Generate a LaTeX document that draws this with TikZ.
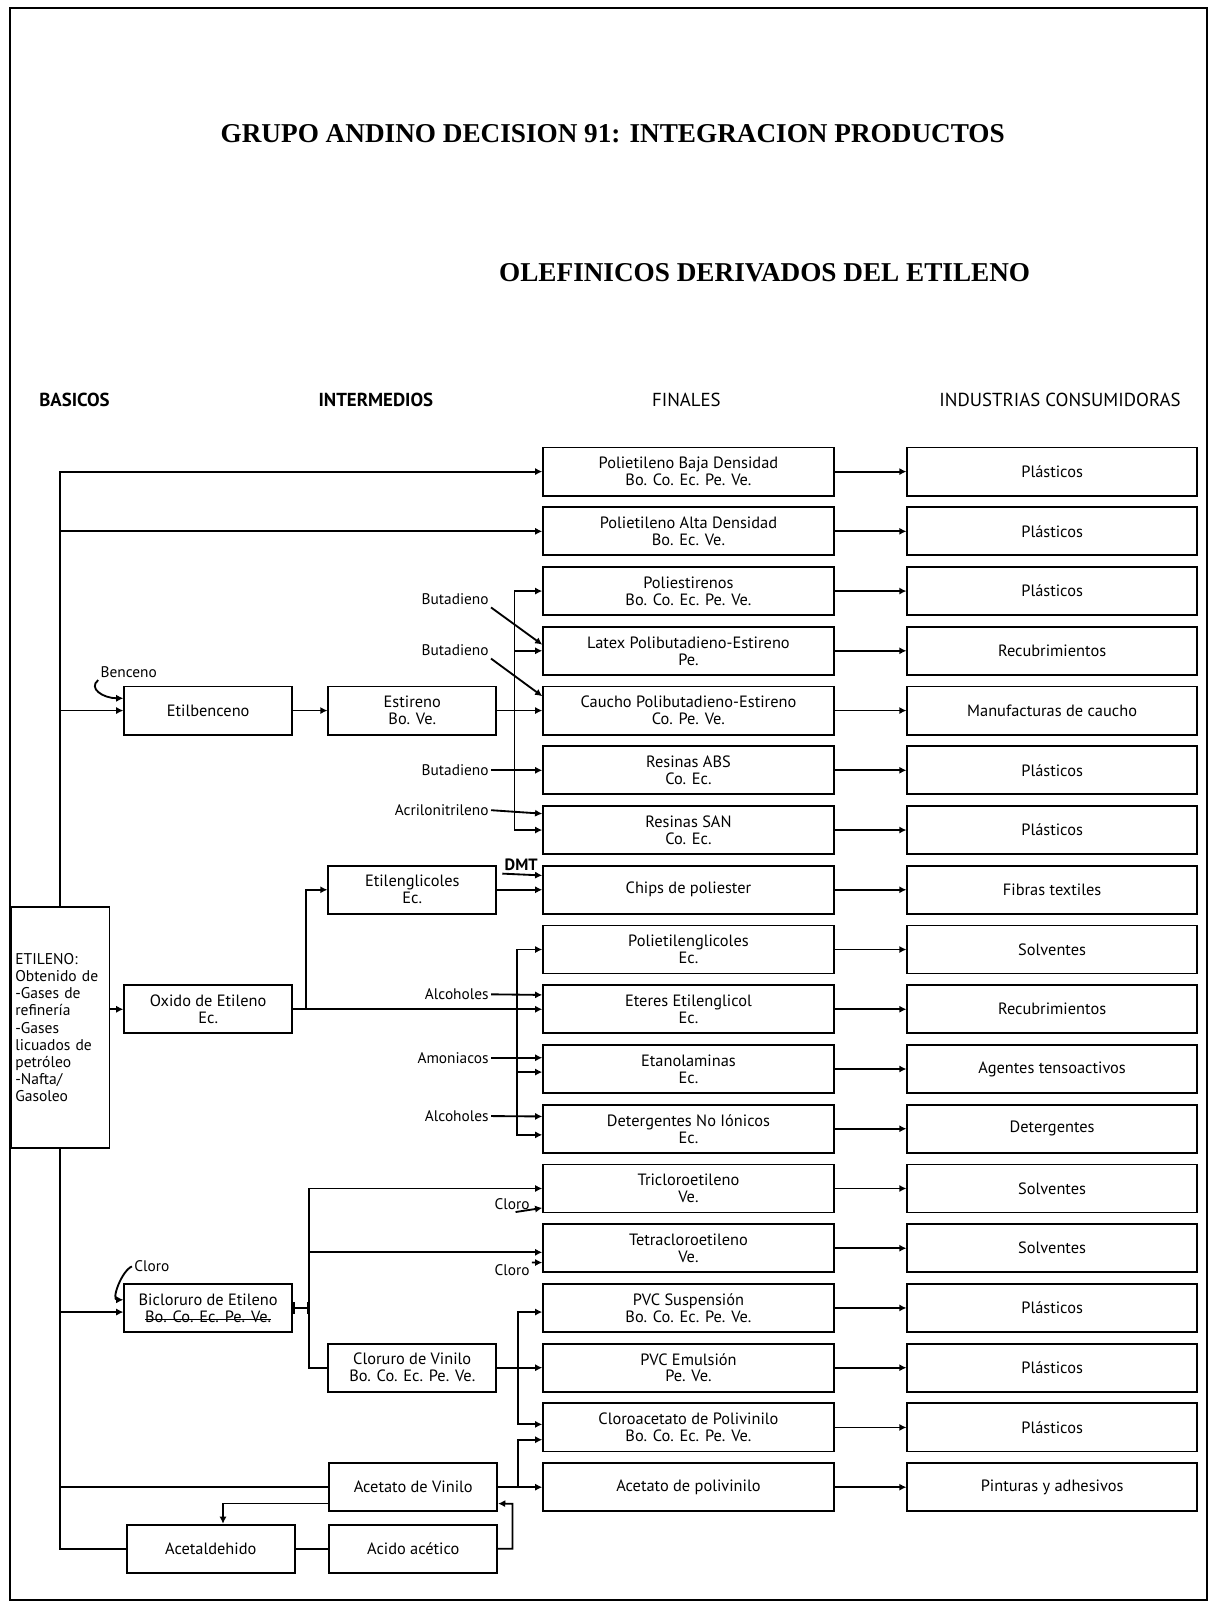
\documentclass[tikz,border=0pt]{standalone}
\usepackage{fontspec}
\setmainfont{Liberation Serif}
\newfontfamily\boxfont{PT Sans}
\usepackage{tikz}
\usetikzlibrary{arrows.meta}
\newsavebox{\tachbox}
\newcommand{\tachado}[1]{\sbox{\tachbox}{#1}\rlap{\rule[0.3ex]{\wd\tachbox}{0.5pt}}\usebox{\tachbox}}
\begin{document}
\begin{tikzpicture}[
  box/.style={draw, line width=0.9pt, minimum height=23.5pt, align=center, inner sep=1pt, font=\boxfont\fontsize{8}{8.3}\selectfont},
  fin/.style={box, minimum width=142pt},
  ind/.style={box, minimum width=141.5pt},
  mid/.style={box, minimum width=82pt},
  tag/.style={inner sep=1pt, font=\boxfont\fontsize{7.5}{8.3}\selectfont},
  head/.style={anchor=west, inner sep=0pt, font=\boxfont\fontsize{9.2}{10}\selectfont},
  link/.style={line width=0.9pt},
  feed/.style={link, -{Latex[length=3.5pt, width=3.5pt]}}]
\useasboundingbox (0pt, 0pt) rectangle (593pt, -784pt);
\draw [line width=1.2pt] (5pt, -4pt) rectangle (590pt, -782pt);
% titles
\node (title) [font=\bfseries\fontsize{13.3}{16}\selectfont] at (299.5pt, -65.5pt) {GRUPO ANDINO DECISION 91: INTEGRACION PRODUCTOS};
\node (subtitle) [font=\bfseries\fontsize{13.3}{16}\selectfont] at (373.75pt, -133.5pt) {OLEFINICOS DERIVADOS DEL ETILENO};
\node (hbas) [head, font=\boxfont\bfseries\fontsize{9.2}{10}\selectfont] at (19pt, -195.5pt) {BASICOS};
\node (hint) [head, font=\boxfont\bfseries\fontsize{9.2}{10}\selectfont] at (155.5pt, -195.5pt) {INTERMEDIOS};
\node (hfin) [head] at (318.5pt, -195.5pt) {FINALES};
\node (hind) [head] at (459pt, -195.5pt) {INDUSTRIAS CONSUMIDORAS};
% finales
\node (f1) [fin] at (336.5pt, -230.5pt) {Polietileno Baja Densidad\\Bo. Co. Ec. Pe. Ve.};
\node (f2) [fin] at (336.5pt, -259.7pt) {Polietileno Alta Densidad\\Bo. Ec. Ve.};
\node (f3) [fin] at (336.5pt, -288.9pt) {Poliestirenos\\Bo. Co. Ec. Pe. Ve.};
\node (f4) [fin] at (336.5pt, -318.1pt) {Latex Polibutadieno-Estireno\\Pe.};
\node (f5) [fin] at (336.5pt, -347.3pt) {Caucho Polibutadieno-Estireno\\Co. Pe. Ve.};
\node (f6) [fin] at (336.5pt, -376.5pt) {Resinas ABS\\Co. Ec.};
\node (f7) [fin] at (336.5pt, -405.7pt) {Resinas SAN\\Co. Ec.};
\node (f8) [fin] at (336.5pt, -434.9pt) {Chips de poliester};
\node (f9) [fin] at (336.5pt, -464.1pt) {Polietilenglicoles\\Ec.};
\node (f10) [fin] at (336.5pt, -493.3pt) {Eteres Etilenglicol\\Ec.};
\node (f11) [fin] at (336.5pt, -522.5pt) {Etanolaminas\\Ec.};
\node (f12) [fin] at (336.5pt, -551.7pt) {Detergentes No Iónicos\\Ec.};
\node (f13) [fin] at (336.5pt, -580.9pt) {Tricloroetileno\\Ve.};
\node (f14) [fin] at (336.5pt, -610.1pt) {Tetracloroetileno\\Ve.};
\node (f15) [fin] at (336.5pt, -639.3pt) {PVC Suspensión\\Bo. Co. Ec. Pe. Ve.};
\node (f16) [fin] at (336.5pt, -668.5pt) {PVC Emulsión\\Pe. Ve.};
\node (f17) [fin] at (336.5pt, -697.7pt) {Cloroacetato de Polivinilo\\Bo. Co. Ec. Pe. Ve.};
\node (f18) [fin] at (336.5pt, -726.9pt) {Acetato de polivinilo};
% industrias consumidoras
\node (c1) [ind] at (514.25pt, -230.5pt) {Plásticos};
\node (c2) [ind] at (514.25pt, -259.7pt) {Plásticos};
\node (c3) [ind] at (514.25pt, -288.9pt) {Plásticos};
\node (c4) [ind] at (514.25pt, -318.1pt) {Recubrimientos};
\node (c5) [ind] at (514.25pt, -347.3pt) {Manufacturas de caucho};
\node (c6) [ind] at (514.25pt, -376.5pt) {Plásticos};
\node (c7) [ind] at (514.25pt, -405.7pt) {Plásticos};
\node (c8) [ind] at (514.25pt, -434.9pt) {Fibras textiles};
\node (c9) [ind] at (514.25pt, -464.1pt) {Solventes};
\node (c10) [ind] at (514.25pt, -493.3pt) {Recubrimientos};
\node (c11) [ind] at (514.25pt, -522.5pt) {Agentes tensoactivos};
\node (c12) [ind] at (514.25pt, -551.7pt) {Detergentes};
\node (c13) [ind] at (514.25pt, -580.9pt) {Solventes};
\node (c14) [ind] at (514.25pt, -610.1pt) {Solventes};
\node (c15) [ind] at (514.25pt, -639.3pt) {Plásticos};
\node (c16) [ind] at (514.25pt, -668.5pt) {Plásticos};
\node (c17) [ind] at (514.25pt, -697.7pt) {Plásticos};
\node (c18) [ind] at (514.25pt, -726.9pt) {Pinturas y adhesivos};
% basicos e intermedios
\node (etileno) [box, align=left, text width=44pt, minimum height=117.5pt, inner xsep=2pt, font=\boxfont\fontsize{7.6}{8.4}\selectfont] at (29.5pt, -502.25pt) {ETILENO:\\Obtenido de\\-Gases de\\refinería\\-Gases\\licuados de\\petróleo\\-Nafta/\\Gasoleo};
\node (etilbenceno) [mid] at (101.75pt, -347.3pt) {Etilbenceno};
\node (estireno) [mid] at (201.5pt, -347.3pt) {Estireno\\Bo. Ve.};
\node (glicoles) [mid] at (201.5pt, -434.9pt) {Etilenglicoles\\Ec.};
\node (oxido) [mid] at (101.75pt, -493.3pt) {Oxido de Etileno\\Ec.};
\node (bicloruro) [mid] at (101.75pt, -639.3pt) {Bicloruro de Etileno\\\tachado{Bo. Co. Ec. Pe. Ve.}};
\node (cloruro) [mid] at (201.5pt, -668.5pt) {Cloruro de Vinilo\\Bo. Co. Ec. Pe. Ve.};
\node (acetato) [mid] at (202pt, -726.9pt) {Acetato de Vinilo};
\node (acetico) [mid] at (202pt, -757pt) {Acido acético};
\node (acetaldehido) [mid] at (103pt, -757pt) {Acetaldehido};
% materias primas auxiliares
\node (benceno) [tag, anchor=west] at (48pt, -328.5pt) {Benceno};
\node (but1) [tag, anchor=east] at (240pt, -293pt) {Butadieno};
\node (but2) [tag, anchor=east] at (240pt, -318pt) {Butadieno};
\node (but3) [tag, anchor=east] at (240pt, -376.5pt) {Butadieno};
\node (acril) [tag, anchor=east] at (240pt, -396pt) {Acrilonitrileno};
\node (dmt) [tag, anchor=south west, font=\boxfont\bfseries\fontsize{8}{9}\selectfont] at (245.5pt, -427pt) {DMT};
\node (alc1) [tag, anchor=east] at (240pt, -486pt) {Alcoholes};
\node (amon) [tag, anchor=east] at (240pt, -517pt) {Amoniacos};
\node (alc2) [tag, anchor=east] at (240pt, -545.5pt) {Alcoholes};
\node (clbic) [tag, anchor=west] at (64.5pt, -619pt) {Cloro};
\node (cl1) [tag, anchor=east] at (260pt, -588.5pt) {Cloro};
\node (cl2) [tag, anchor=east] at (260pt, -621pt) {Cloro};
\coordinate (sbus) at (251.5pt, -347.3pt);
\coordinate (ojoin) at (149.5pt, -493.3pt);
\coordinate (obus) at (252.5pt, -493.3pt);
\coordinate (vbus) at (151pt, -639.3pt);
\coordinate (cbus) at (253pt, -668.5pt);
\coordinate (abus) at (253pt, -726.9pt);
\coordinate (loop) at (250.5pt, -735pt);
% tronco del etileno
\draw [feed] (etileno.north) |- (f1.west);
\draw [feed] (etileno.north) |- (f2.west);
\draw [feed] (etileno.north) |- (etilbenceno.west);
\draw [feed] (etileno.east |- oxido.west) -- (oxido.west);
\draw [feed] (etileno.south) |- ([yshift=-2pt]bicloruro.west);
\draw [link] (etileno.south) |- (acetato.west);
\draw [link] (etileno.south) |- (acetaldehido.west);
% estireno
\draw [feed] (benceno.south west) .. controls +(-5pt,-4pt) and +(-10pt,0pt) .. ([yshift=6pt]etilbenceno.west);
\draw [feed] (etilbenceno.east) -- (estireno.west);
\draw [feed] (estireno.east) -- (f5.west);
\draw [feed] (sbus) |- (f3.west);
\draw [feed] (sbus) |- (f4.west);
\draw [feed] (sbus) |- (f7.west);
\draw [feed] (but1.south east) -- ([yshift=3pt]f4.west);
\draw [feed] (but2.south east) -- ([yshift=7pt]f5.west);
\draw [feed] (but3.east) -- (f6.west);
\draw [feed] (acril.east) -- ([yshift=8pt]f7.west);
% oxido de etileno
\draw [feed] (oxido.east) -- (f10.west);
\draw [feed] (ojoin) |- (glicoles.west);
\draw [feed] (glicoles.east) -- (f8.west);
\draw [feed] (dmt.south west) -- ([yshift=7pt]f8.west);
\draw [feed] (obus) |- (f9.west);
\draw [feed] (obus) |- ([yshift=-1.5pt]f11.west);
\draw [feed] (obus) |- ([yshift=-3pt]f12.west);
\draw [feed] (alc1.east) -- ([yshift=7pt]f10.west);
\draw [feed] (amon.east) -- ([yshift=5.5pt]f11.west);
\draw [feed] (alc2.east) -- ([yshift=6pt]f12.west);
% bicloruro de etileno
\draw [feed] (clbic.west) .. controls +(-5pt,-2pt) and +(-6pt,0pt) .. ([yshift=4pt]bicloruro.west);
\draw [link, {Bar[width=6pt]}-{Bar[width=6pt]}] (bicloruro.east) -- (vbus);
\draw [feed] (vbus) |- (f13.west);
\draw [feed] (vbus) |- ([yshift=-2pt]f14.west);
\draw [link] (vbus) |- (cloruro.west);
\draw [feed] ([xshift=-8pt]cl1.south east) -- ([yshift=-9.5pt]f13.west);
\draw [feed] (cl2.north east) -- ([yshift=-7pt]f14.west);
% cloruro y acetato de vinilo
\draw [feed] (cloruro.east) -- (f16.west);
\draw [feed] (cbus) |- ([yshift=-2pt]f15.west);
\draw [feed] (cbus) |- ([yshift=1.5pt]f17.west);
\draw [feed] (acetato.east) -- (f18.west);
\draw [feed] (abus) |- ([yshift=-6pt]f17.west);
\draw [link] (acetaldehido.east) -- (acetico.west);
\draw [feed] (acetico.east) -| (loop) -- ([yshift=-8pt]acetato.east);
\draw [feed] ([yshift=-8pt]acetato.west) -| ([xshift=6pt]acetaldehido.north);
% finales a industrias
\draw [feed] (f1.east) -- (c1.west);
\draw [feed] (f2.east) -- (c2.west);
\draw [feed] (f3.east) -- (c3.west);
\draw [feed] (f4.east) -- (c4.west);
\draw [feed] (f5.east) -- (c5.west);
\draw [feed] (f6.east) -- (c6.west);
\draw [feed] (f7.east) -- (c7.west);
\draw [feed] (f8.east) -- (c8.west);
\draw [feed] (f9.east) -- (c9.west);
\draw [feed] (f10.east) -- (c10.west);
\draw [feed] (f11.east) -- (c11.west);
\draw [feed] (f12.east) -- (c12.west);
\draw [feed] (f13.east) -- (c13.west);
\draw [feed] (f14.east) -- (c14.west);
\draw [feed] (f15.east) -- (c15.west);
\draw [feed] (f16.east) -- (c16.west);
\draw [feed] (f17.east) -- (c17.west);
\draw [feed] (f18.east) -- (c18.west);
\end{tikzpicture}
\end{document}
